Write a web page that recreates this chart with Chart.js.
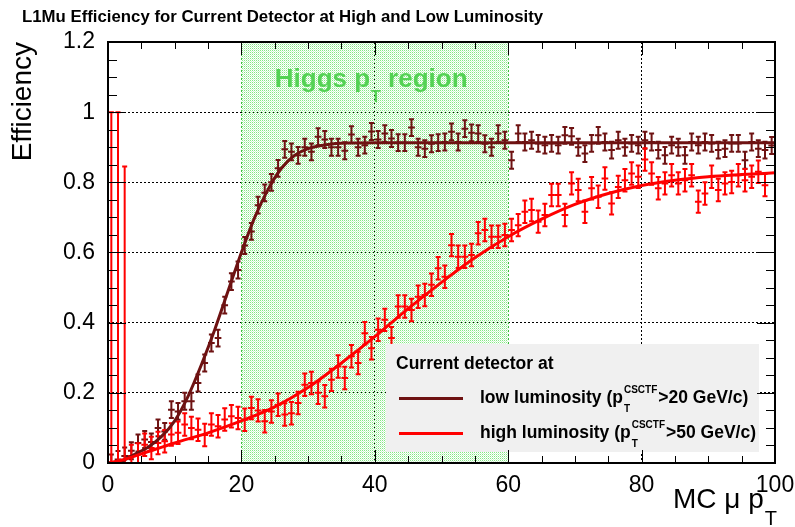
<!DOCTYPE html>
<html>
<head>
<meta charset="utf-8">
<script src="https://cdn.jsdelivr.net/npm/chart.js@4.4.1/dist/chart.umd.min.js"></script>
<style>
  html, body { margin: 0; padding: 0; background: #fff; }
  #wrap { width: 795px; height: 527px; }
</style>
</head>
<body>
<div id="wrap"><canvas id="effChart" width="795" height="527"></canvas></div>
<script>
const FONT = "'Liberation Sans', Arial, Helvetica, sans-serif";
const LOW_COLOR = '#6e1212';
const HIGH_COLOR = '#ff0000';

// 1 GeV bins in MC muon pT, values are the bin centres
const ptBins = Array.from({ length: 100 }, (_, i) => i + 0.5);

// low luminosity efficiency per bin
const lowLumEff = [
	0, 0.01, 0.02, 0.035, 0.057, 0.067, 0.06, 0.10, 0.09, 0.152,
	0.147, 0.176, 0.176, 0.228, 0.285, 0.342, 0.356, 0.45, 0.517, 0.55,
	0.62, 0.66, 0.735, 0.77, 0.80, 0.84, 0.894, 0.887, 0.877, 0.90,
	0.887, 0.93, 0.922, 0.90, 0.90, 0.89, 0.936, 0.90, 0.906, 0.945,
	0.922, 0.939, 0.925, 0.913, 0.913, 0.956, 0.90, 0.896, 0.91, 0.913,
	0.915, 0.944, 0.915, 0.953, 0.941, 0.939, 0.91, 0.90, 0.939, 0.92,
	0.863, 0.939, 0.915, 0.92, 0.911, 0.906, 0.911, 0.906, 0.934, 0.931,
	0.90, 0.882, 0.911, 0.934, 0.915, 0.892, 0.92, 0.90, 0.911, 0.906,
	0.92, 0.915, 0.892, 0.877, 0.906, 0.90, 0.877, 0.915, 0.906, 0.915,
	0.911, 0.892, 0.896, 0.911, 0.911, 0.863, 0.915, 0.896, 0.892, 0.905,
];

// high luminosity efficiency per bin
const highLumEff = [
	0, 0, 0, 0.02, 0.024, 0.052, 0.043, 0.057, 0.062, 0.081,
	0.086, 0.11, 0.10, 0.095, 0.08, 0.11, 0.105, 0.124, 0.133, 0.128,
	0.123, 0.157, 0.15, 0.119, 0.147, 0.166, 0.138, 0.142, 0.171, 0.223,
	0.228, 0.20, 0.19, 0.237, 0.275, 0.242, 0.304, 0.285, 0.37, 0.327,
	0.38, 0.408, 0.356, 0.446, 0.446, 0.436, 0.474, 0.479, 0.508, 0.555,
	0.531, 0.621, 0.588, 0.588, 0.593, 0.655, 0.664, 0.645, 0.645, 0.65,
	0.664, 0.678, 0.716, 0.721, 0.688, 0.707, 0.764, 0.764, 0.707, 0.797,
	0.778, 0.716, 0.783, 0.759, 0.811, 0.74, 0.787, 0.806, 0.825, 0.816,
	0.865, 0.825, 0.783, 0.797, 0.82, 0.797, 0.806, 0.82, 0.745, 0.768,
	0.816, 0.778, 0.797, 0.801, 0.82, 0.806, 0.816, 0.83, 0.792, null,
];

// statistical errors (roughly constant), first high-lumi bins are empty
const lowLumErr = 0.024;
const highLumErr = 0.032;
const highLumEmptyErrUp = [1.0, 1.0, 0.845];

// fitted turn-on curves
const lowFitPt = [0, 2, 4, 6, 8, 10, 12, 14, 16, 18, 20, 22, 24, 26, 28, 30, 33, 36, 40, 50, 60, 70, 80, 90, 100];
const lowFitEff = [0, 0.005, 0.025, 0.045, 0.075, 0.12, 0.19, 0.28, 0.38, 0.49, 0.60, 0.70, 0.78, 0.84, 0.877, 0.896, 0.908, 0.912, 0.913, 0.913, 0.913, 0.913, 0.913, 0.913, 0.913];
const highFitPt = [0, 2, 5, 10, 15, 20, 25, 30, 35, 40, 45, 50, 55, 60, 65, 70, 75, 80, 85, 90, 95, 100];
const highFitEff = [0, 0.008, 0.026, 0.057, 0.086, 0.12, 0.16, 0.215, 0.285, 0.36, 0.44, 0.515, 0.585, 0.645, 0.695, 0.737, 0.768, 0.791, 0.806, 0.816, 0.822, 0.827];

const higgsRegion = [20, 60];
const xTickValues = [0, 20, 40, 60, 80, 100];
const yTickValues = [0, 0.2, 0.4, 0.6, 0.8, 1.0, 1.2];

const lowPoints = ptBins.map((x, i) => ({ x: x, y: lowLumEff[i] }));
const highPoints = ptBins.map((x, i) => ({ x: x, y: highLumEff[i] }));

// sparse dotted green fill like the ROOT hatch
function dotPattern(ctx) {
	const c = document.createElement('canvas');
	c.width = 2;
	c.height = 2;
	const g = c.getContext('2d');
	g.fillStyle = 'rgb(132,231,132)';
	g.fillRect(0, 0, 1, 1);
	g.fillStyle = 'rgb(206,246,206)';
	g.fillRect(1, 1, 1, 1);
	return ctx.createPattern(c, 'repeat');
}

const higgsBand = {
	id: 'higgsBand',
	beforeDatasetsDraw(chart) {
		const { ctx, chartArea: a, scales: { x } } = chart;
		const x0 = x.getPixelForValue(higgsRegion[0]);
		const x1 = x.getPixelForValue(higgsRegion[1]);
		ctx.save();
		ctx.fillStyle = dotPattern(ctx);
		ctx.fillRect(x0, a.top, x1 - x0, a.bottom - a.top);
		ctx.strokeStyle = 'rgb(60,190,60)';
		ctx.lineWidth = 1;
		ctx.setLineDash([2, 2]);
		[x0, x1].forEach((px) => {
			ctx.beginPath();
			ctx.moveTo(Math.round(px) + 0.5, a.top);
			ctx.lineTo(Math.round(px) + 0.5, a.bottom);
			ctx.stroke();
		});
		ctx.setLineDash([]);

		// label
		ctx.fillStyle = 'rgb(84,210,84)';
		ctx.textBaseline = 'alphabetic';
		let tx = x.getPixelForValue(25);
		const ty = 87;
		ctx.font = 'bold 26px ' + FONT;
		ctx.fillText('Higgs p', tx, ty);
		tx += ctx.measureText('Higgs p').width + 1;
		ctx.font = 'bold 16px ' + FONT;
		ctx.fillText('T', tx, ty + 15);
		tx += ctx.measureText('T').width;
		ctx.font = 'bold 26px ' + FONT;
		ctx.fillText(' region', tx, ty);
		ctx.restore();
	},
};

const errorBars = {
	id: 'errorBars',
	afterDatasetDraw(chart, args) {
		const ds = chart.data.datasets[args.index];
		if (!ds.errUp) return;
		const { ctx, chartArea: a, scales: { x, y } } = chart;
		ctx.save();
		ctx.beginPath();
		ctx.rect(a.left, a.top, a.right - a.left, a.bottom - a.top);
		ctx.clip();
		ctx.strokeStyle = ds.borderColor;
		ctx.lineWidth = 2;
		ds.data.forEach((p, i) => {
			if (p.y === null) return;
			const px = x.getPixelForValue(p.x);
			const py = y.getPixelForValue(p.y);
			const xl = x.getPixelForValue(p.x - 0.5);
			const xr = x.getPixelForValue(p.x + 0.5);
			const yt = y.getPixelForValue(p.y + ds.errUp[i]);
			const yb = y.getPixelForValue(p.y - ds.errDown[i]);
			ctx.beginPath();
			ctx.moveTo(xl, py);
			ctx.lineTo(xr, py);
			ctx.moveTo(px, yt);
			ctx.lineTo(px, yb);
			ctx.moveTo(px - 2.5, yt);
			ctx.lineTo(px + 2.5, yt);
			if (ds.errDown[i] > 0) {
				ctx.moveTo(px - 2.5, yb);
				ctx.lineTo(px + 2.5, yb);
			}
			ctx.stroke();
		});
		ctx.restore();
	},
};

function drawPtCut(ctx, x, y, before, after) {
	ctx.font = 'bold 17.5px ' + FONT;
	ctx.fillText(before, x, y);
	x += ctx.measureText(before).width + 1;
	ctx.font = 'bold 10px ' + FONT;
	ctx.fillText('CSCTF', x, y - 10);
	ctx.fillText('T', x, y + 9);
	x += ctx.measureText('CSCTF').width + 1;
	ctx.font = 'bold 17.5px ' + FONT;
	ctx.fillText(after, x, y);
}

const rootLegend = {
	id: 'rootLegend',
	afterDatasetsDraw(chart) {
		const { ctx } = chart;
		ctx.save();
		ctx.fillStyle = '#f0f0f0';
		ctx.fillRect(386, 344, 373, 108);
		ctx.fillStyle = '#000';
		ctx.textBaseline = 'alphabetic';
		ctx.font = 'bold 17.5px ' + FONT;
		ctx.fillText('Current detector at', 396, 369);

		ctx.lineWidth = 3;
		ctx.strokeStyle = LOW_COLOR;
		ctx.beginPath();
		ctx.moveTo(399, 398.5);
		ctx.lineTo(463, 398.5);
		ctx.stroke();
		ctx.strokeStyle = HIGH_COLOR;
		ctx.beginPath();
		ctx.moveTo(399, 433.5);
		ctx.lineTo(463, 433.5);
		ctx.stroke();

		drawPtCut(ctx, 480, 403, 'low luminosity (p', '>20 GeV/c)');
		drawPtCut(ctx, 480, 438, 'high luminosity (p', '>50 GeV/c)');
		ctx.restore();
	},
};

const rootFrame = {
	id: 'rootFrame',
	afterDraw(chart) {
		const { ctx, chartArea: a, scales: { x, y } } = chart;
		ctx.save();
		ctx.strokeStyle = '#000';
		ctx.lineWidth = 1;
		const seg = (x0, y0, x1, y1) => {
			ctx.beginPath();
			ctx.moveTo(x0, y0);
			ctx.lineTo(x1, y1);
			ctx.stroke();
		};
		// inner ticks, major every 20 / 0.2, minor every 5 / 0.05
		for (let v = 0; v <= 100; v += 5) {
			const px = Math.round(x.getPixelForValue(v)) + 0.5;
			const len = v % 20 === 0 ? 13 : 7;
			seg(px, a.bottom, px, a.bottom - len);
			seg(px, a.top, px, a.top + len);
		}
		for (let k = 0; k <= 24; k++) {
			const py = Math.round(y.getPixelForValue(k * 0.05)) + 0.5;
			const len = k % 4 === 0 ? 18 : 9;
			seg(a.left, py, a.left + len, py);
			seg(a.right, py, a.right - len, py);
		}
		ctx.lineWidth = 2;
		ctx.strokeRect(a.left, a.top, a.right - a.left, a.bottom - a.top);

		// titles
		ctx.fillStyle = '#000';
		ctx.textBaseline = 'alphabetic';
		ctx.font = 'bold 16.8px ' + FONT;
		ctx.fillText('L1Mu Efficiency for Current Detector at High and Low Luminosity', 22, 22);

		ctx.save();
		ctx.translate(31, a.top);
		ctx.rotate(-Math.PI / 2);
		ctx.textAlign = 'right';
		ctx.font = '28px ' + FONT;
		ctx.fillText('Efficiency', 0, 0);
		ctx.restore();

		ctx.font = '20px ' + FONT;
		const tW = ctx.measureText('T').width;
		ctx.textAlign = 'right';
		ctx.fillText('T', 777, 525);
		ctx.font = '28px ' + FONT;
		ctx.fillText('MC \u03bc p', 777 - tW - 1, 508);
		ctx.restore();
	},
};

const axisTicks = {
	font: { size: 23, family: FONT },
	color: '#000',
	maxRotation: 0,
	callback: (v) => String(+v.toFixed(2)),
};

const effCtx = document.getElementById('effChart').getContext('2d');
const effChart = new Chart(effCtx, {
	type: 'scatter',
	data: {
		datasets: [
			{
				label: 'low luminosity',
				data: lowPoints,
				borderColor: LOW_COLOR,
				backgroundColor: LOW_COLOR,
				pointRadius: 0,
				showLine: false,
				errUp: lowLumEff.map(() => lowLumErr),
				errDown: lowLumEff.map((v) => Math.min(lowLumErr, v)),
				order: 4,
			},
			{
				label: 'high luminosity',
				data: highPoints,
				borderColor: HIGH_COLOR,
				backgroundColor: HIGH_COLOR,
				pointRadius: 0,
				showLine: false,
				errUp: highLumEff.map((v, i) => (i < highLumEmptyErrUp.length ? highLumEmptyErrUp[i] : highLumErr)),
				errDown: highLumEff.map((v) => Math.min(highLumErr, v || 0)),
				order: 3,
			},
			{
				label: 'low luminosity fit',
				data: lowFitPt.map((x, i) => ({ x: x, y: lowFitEff[i] })),
				borderColor: LOW_COLOR,
				borderWidth: 3,
				pointRadius: 0,
				showLine: true,
				cubicInterpolationMode: 'monotone',
				order: 2,
			},
			{
				label: 'high luminosity fit',
				data: highFitPt.map((x, i) => ({ x: x, y: highFitEff[i] })),
				borderColor: HIGH_COLOR,
				borderWidth: 3,
				pointRadius: 0,
				showLine: true,
				cubicInterpolationMode: 'monotone',
				order: 1,
			},
		],
	},
	options: {
		responsive: false,
		animation: false,
		events: [],
		layout: { padding: { top: 42, right: 20, left: 0, bottom: 0 } },
		plugins: {
			legend: { display: false },
			tooltip: { enabled: false },
		},
		scales: {
			x: {
				type: 'linear',
				min: 0,
				max: 100,
				afterBuildTicks: (s) => {
					s.ticks = xTickValues.map((v) => ({ value: v }));
				},
				afterFit: (s) => {
					s.height = 64;
					s.paddingLeft = 0;
					s.paddingRight = 0;
				},
				grid: { color: '#000', lineWidth: 1, drawTicks: false },
				border: { display: false, dash: [2, 2] },
				ticks: Object.assign({ padding: 9 }, axisTicks),
			},
			y: {
				type: 'linear',
				min: 0,
				max: 1.2,
				afterBuildTicks: (s) => {
					s.ticks = yTickValues.map((v) => ({ value: v }));
				},
				afterFit: (s) => {
					s.width = 108;
					s.paddingTop = 0;
					s.paddingBottom = 0;
				},
				grid: { color: '#000', lineWidth: 1, drawTicks: false },
				border: { display: false, dash: [2, 2] },
				ticks: Object.assign({ padding: 13 }, axisTicks),
			},
		},
	},
	plugins: [higgsBand, errorBars, rootLegend, rootFrame],
});
</script>
</body>
</html>
